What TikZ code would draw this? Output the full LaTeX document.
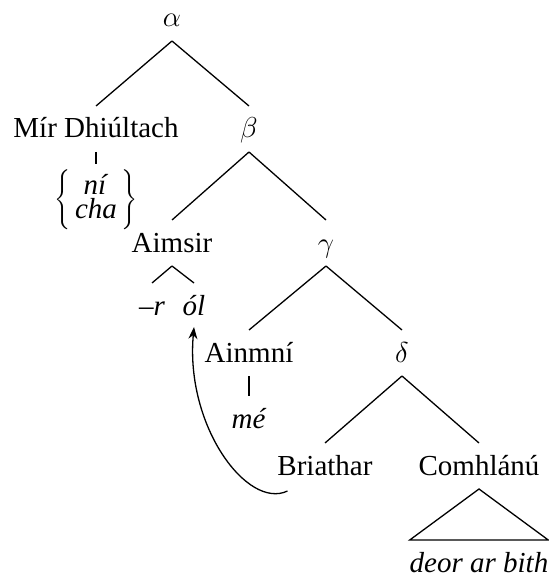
\documentclass[tikz,border=0pt]{standalone}
\usepackage{fontspec}
\setmainfont{Liberation Serif}[
  UprightFont=Liberation Serif,
  ItalicFont=Liberation Serif Italic,
  BoldFont=Liberation Serif Bold]
\usetikzlibrary{arrows.meta}
\begin{document}
\begin{tikzpicture}[x=0.5pt,y=-0.5pt,
  tn/.style={inner sep=0pt, outer xsep=0pt, outer ysep=7pt,
             text height=9pt, text depth=0pt, anchor=base,
             font=\fontsize{14.5}{16}\selectfont},
  brnode/.style={inner sep=0pt, outer ysep=3pt,
             font=\fontsize{14.5}{16}\selectfont},
  edge/.style={line width=0.65pt},
  mv/.style={line width=0.65pt, -{Stealth[length=6pt,width=4.5pt]}}]
\useasboundingbox (0,0) rectangle (548,577);

% labels
\node[tn] (alpha) at (172,27)  {$\alpha$};
\node[tn] (mir)   at (96,138)  {Mír Dhiúltach};
\node[tn] (beta)  at (249,138) {$\beta$};
\node[brnode] (neg) at (96,200)
  {$\left\{\,\begin{tabular}{@{}c@{}}\textit{ní}\\[-4pt]\textit{cha}\end{tabular}\,\right\}$};
\node[tn] (aimsir) at (172,252) {Aimsir};
\node[tn] (gamma)  at (326,252) {$\gamma$};
\node[tn] (r)      at (152,315) {\textit{–r}};
\node[tn] (ol)     at (194,315) {\textit{ól}};
\node[tn] (ainm)   at (249,362) {Ainmní};
\node[tn] (delta)  at (402,362) {$\delta$};
\node[tn] (me)     at (249,428) {\textit{mé}};
\node[tn] (bri)    at (325,475) {Briathar};
\node[tn] (comh)   at (479,475) {Comhlánú};
\node[tn, minimum width=135pt*0.5] (deor) at (479,572) {\textit{deor ar bith}};

% branches
\draw[edge] (alpha.south) -- (mir.north);
\draw[edge] (alpha.south) -- (beta.north);
\draw[edge] (mir.south) -- (neg.north);
\draw[edge] (beta.south) -- (aimsir.north);
\draw[edge] (beta.south) -- (gamma.north);
\draw[edge] (aimsir.south) -- (r.north);
\draw[edge] (aimsir.south) -- (ol.north);
\draw[edge] (gamma.south) -- (ainm.north);
\draw[edge] (gamma.south) -- (delta.north);
\draw[edge] (ainm.south) -- (me.north);
\draw[edge] (delta.south) -- (bri.north);
\draw[edge] (delta.south) -- (comh.north);
\draw[edge] (comh.south) -- (deor.north east) -- (deor.north west) -- cycle;

% movement arrow
\draw[mv] ([xshift=5pt,yshift=-1pt]bri.south west)
  .. controls +(-40,19) and +(-9,99) .. ([yshift=1pt]ol.south);
\end{tikzpicture}
\end{document}
